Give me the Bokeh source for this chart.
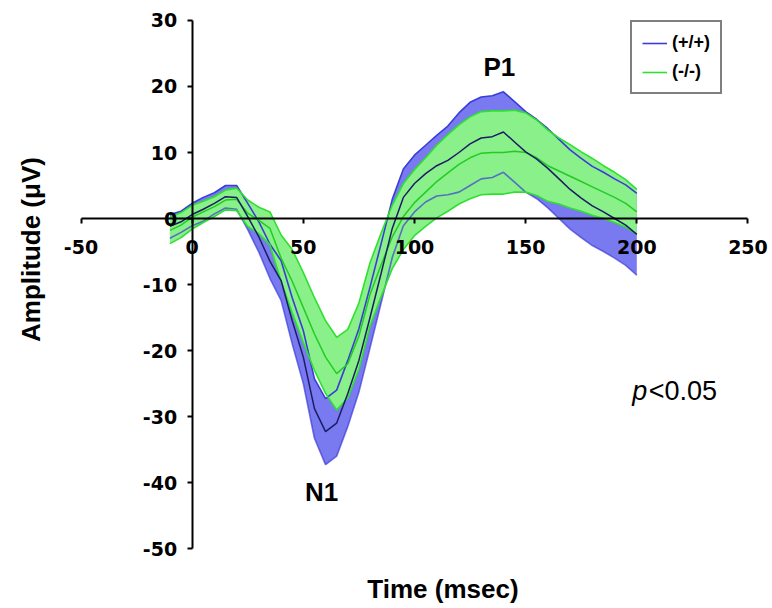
import math
from bokeh.plotting import figure
from bokeh.models import FixedTicker, Label, Legend, LegendItem, ColumnDataSource
from bokeh.embed import file_html
from bokeh.resources import INLINE

# ---- data ----
time_ms = [-10, -5, 0, 5, 10, 15, 20, 25, 30, 35, 40, 45, 50, 55, 60, 65, 70, 75, 80, 85,
           90, 95, 100, 105, 110, 115, 120, 125, 130, 135, 140, 145, 150, 155, 160, 165,
           170, 175, 180, 185, 190, 195, 200]

wt_mean = [-1.2, -0.5, 0.6, 1.4, 2.3, 3.3, 3.2, 0.3, -2.8, -6.5, -9.4, -15.5, -21.0, -28.8,
           -32.3, -31.0, -26.5, -21.5, -15.0, -8.3, -1.5, 3.2, 5.3, 6.8, 8.0, 8.8, 10.0,
           11.3, 12.2, 12.4, 13.1, 11.6, 10.1, 9.0, 7.6, 6.0, 4.4, 3.1, 1.9, 1.0, 0.0,
           -1.0, -2.4]
wt_err = [1.8, 1.6, 1.7, 1.8, 1.6, 1.7, 1.8, 2.0, 2.3, 2.6, 3.0, 3.5, 4.0, 4.5, 5.0, 5.0,
          5.0, 4.8, 4.6, 4.5, 4.4, 4.3, 4.3, 4.3, 4.6, 5.2, 6.0, 6.3, 6.2, 6.2, 6.1, 6.1,
          6.1, 6.0, 6.0, 6.0, 6.0, 6.0, 6.0, 6.0, 6.0, 6.1, 6.2]

ko_mean = [-1.8, -1.0, 0.2, 1.0, 1.8, 2.8, 2.9, 0.8, -0.3, -1.5, -6.0, -9.5, -13.5, -17.5,
           -21.0, -23.5, -22.0, -17.8, -11.5, -7.0, -2.8, 0.3, 2.4, 4.0, 5.6, 6.9, 8.2,
           9.2, 9.9, 10.0, 10.0, 10.2, 10.0, 9.2, 8.0, 7.2, 6.4, 5.6, 4.8, 4.0, 3.2, 2.3,
           1.0]
ko_err = [2.0, 1.9, 1.8, 1.6, 1.5, 1.5, 1.7, 2.0, 2.0, 2.5, 3.5, 4.8, 5.3, 5.5, 5.5, 5.5,
          5.2, 5.0, 4.8, 4.8, 4.8, 5.0, 5.0, 5.2, 5.5, 5.8, 6.0, 6.2, 6.3, 6.3, 6.3, 6.2,
          6.0, 5.7, 5.4, 5.0, 4.8, 4.5, 4.3, 4.0, 3.8, 3.6, 3.4]

x_ticks = [-50, 0, 50, 100, 150, 200, 250]
y_ticks = [-50, -40, -30, -20, -10, 0, 10, 20, 30]
series_labels = ["(+/+)", "(-/-)"]

src = ColumnDataSource(dict(
    t=time_ms,
    wt=wt_mean, wt_lo=[m - e for m, e in zip(wt_mean, wt_err)], wt_hi=[m + e for m, e in zip(wt_mean, wt_err)],
    ko=ko_mean, ko_lo=[m - e for m, e in zip(ko_mean, ko_err)], ko_hi=[m + e for m, e in zip(ko_mean, ko_err)],
))

# frame fills the whole canvas; the axes cross at zero and are bounded to the data extent
p = figure(width=772, height=608, x_range=(-86.21, 261.03), y_range=(-59.09, 33.03),
           output_backend="svg", toolbar_location=None,
           min_border_left=0, min_border_right=0, min_border_top=0, min_border_bottom=0)
p.xgrid.visible = False
p.ygrid.visible = False
p.outline_line_color = None
p.background_fill_color = "white"
p.border_fill_color = "white"

# bands
p.varea(x="t", y1="wt_lo", y2="wt_hi", source=src, fill_color="#7a7af0")
p.varea(x="t", y1="ko_lo", y2="ko_hi", source=src, fill_color="#8af08a")
r_wt_hi = p.line("t", "wt_hi", source=src, line_color="#3c3cd8", line_width=1.6)
p.line("t", "wt_lo", source=src, line_color="#3c3cd8", line_width=1.6, line_alpha=0.7)
r_ko_hi = p.line("t", "ko_hi", source=src, line_color="#30e030", line_width=1.6)
p.line("t", "ko_lo", source=src, line_color="#30e030", line_width=1.6)
p.line("t", "ko", source=src, line_color="#22cc22", line_width=1.5)
p.line("t", "wt", source=src, line_color="#1c1c66", line_width=1.5)

# axes crossing at zero
for ax in (p.xaxis[0], p.yaxis[0]):
    ax.fixed_location = 0
    ax.axis_line_width = 2
    ax.axis_line_color = "black"
    ax.major_tick_line_width = 2
    ax.major_tick_in = 0
    ax.major_tick_out = 5
    ax.minor_tick_line_color = None
    ax.major_label_text_font = "DejaVu Sans"
    ax.major_label_text_font_style = "bold"
    ax.major_label_text_font_size = "19px"
    ax.major_label_text_color = "black"
p.xaxis[0].ticker = FixedTicker(ticks=x_ticks)
p.yaxis[0].ticker = FixedTicker(ticks=y_ticks)
p.xaxis[0].bounds = (x_ticks[0], x_ticks[-1])
p.yaxis[0].bounds = (y_ticks[0], y_ticks[-1])
p.xaxis[0].major_label_overrides = {v: str(v) for v in x_ticks}
p.yaxis[0].major_label_overrides = {v: str(v) for v in y_ticks}
p.xaxis[0].major_label_standoff = 16
p.yaxis[0].major_label_standoff = 10

# axis titles and annotations
font = "Liberation Sans"
p.add_layout(Label(x=-72.71, y=-4.7, text="Amplitude (μV)", angle=math.pi / 2,
                   text_align="center", text_baseline="middle", text_font=font,
                   text_font_style="bold", text_font_size="26px", text_color="black"))
p.add_layout(Label(x=112.8, y=-56.06, text="Time (msec)", text_align="center",
                   text_baseline="middle", text_font=font, text_font_style="bold",
                   text_font_size="26px", text_color="black"))
p.add_layout(Label(x=138.2, y=22.9, text="P1", text_align="center", text_baseline="middle",
                   text_font=font, text_font_style="bold", text_font_size="26px",
                   text_color="black"))
p.add_layout(Label(x=58.2, y=-41.5, text="N1", text_align="center", text_baseline="middle",
                   text_font=font, text_font_style="bold", text_font_size="26px",
                   text_color="black"))
p.add_layout(Label(x=197.9, y=-26.1, text="p", text_align="left", text_baseline="middle",
                   text_font=font, text_font_style="italic", text_font_size="27px",
                   text_color="black"))
p.add_layout(Label(x=205.4, y=-26.1, text="<0.05", text_align="left", text_baseline="middle",
                   text_font=font, text_font_size="27px", text_color="black"))

legend = Legend(items=[LegendItem(label=series_labels[0], renderers=[r_wt_hi]),
                       LegendItem(label=series_labels[1], renderers=[r_ko_hi])],
                location=(630, 514))
legend.border_line_color = "black"
legend.border_line_width = 2
legend.background_fill_color = "white"
legend.background_fill_alpha = 1
legend.label_text_font = font
legend.label_text_font_style = "bold"
legend.label_text_font_size = "18px"
legend.label_text_color = "black"
legend.glyph_width = 25
legend.glyph_height = 20
legend.label_height = 20
legend.label_standoff = 5
legend.spacing = 8
legend.padding = 10
legend.margin = 0
p.add_layout(legend)

open("out.html", "w").write(file_html(p, INLINE))
